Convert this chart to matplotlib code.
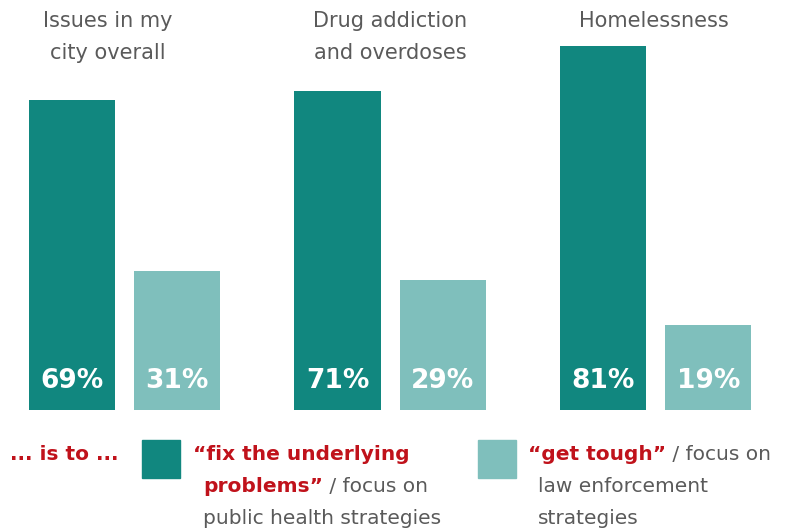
import matplotlib.pyplot as plt
import numpy as np
from matplotlib.patches import Rectangle

categories = ['Issues in my\ncity overall', 'Drug addiction\nand overdoses', 'Homelessness']
fix_problems = [69, 71, 81]
get_tough = [31, 29, 19]

dark = '#11877f'
light = '#7fbfbc'
red = '#c0121b'
gray = '#5a5a5a'

W, H = 786, 531
fig = plt.figure(figsize=(W / 100, H / 100), dpi=100)
ax = fig.add_axes([0, 0, 1, 1])

x = np.arange(len(categories))
off = 0.198
bw = 0.324
ax.bar(x - off, fix_problems, bw, color=dark)
ax.bar(x + off, get_tough, bw, color=light)

title_shift = [-0.062, 0, -0.006]
for i in range(len(categories)):
    ax.text(x[i] - off, 6.5, f'{fix_problems[i]}%', ha='center', va='center',
            color='white', fontsize=19, fontweight='bold')
    ax.text(x[i] + off, 6.5, f'{get_tough[i]}%', ha='center', va='center',
            color='white', fontsize=19, fontweight='bold')
    ax.text(x[i] + title_shift[i], 88.8, categories[i], ha='center', va='top',
            color=gray, fontsize=15, linespacing=1.75)

ax.set_xlim(-0.469, 2.491)
ax.set_ylim(-26.9, 91.3)
ax.axis('off')

# legend, drawn by hand in figure pixels
def px(xp, yp):
    return xp / W, 1 - yp / H

renderer = fig.canvas.get_renderer()
fs = 14.5

def rich_line(xp, yp, parts):
    # parts: list of (text, color, weight), placed one after another
    cur = xp
    for s, c, w in parts:
        t = fig.text(*px(cur, yp), s, color=c, fontweight=w, fontsize=fs,
                     ha='left', va='center')
        bb = t.get_window_extent(renderer)
        cur += bb.width

rich_line(10, 455, [('... is to ...', red, 'bold')])

fig.patches.append(Rectangle(px(142, 478), 38 / W, 38 / H, color=dark,
                             transform=fig.transFigure))
rich_line(193, 455, [('\u201cfix the underlying', red, 'bold')])
rich_line(203, 487, [('problems\u201d', red, 'bold'), (' / focus on', gray, 'normal')])
rich_line(203, 518, [('public health strategies', gray, 'normal')])

fig.patches.append(Rectangle(px(478, 478), 38 / W, 38 / H, color=light,
                             transform=fig.transFigure))
rich_line(528, 455, [('\u201cget tough\u201d', red, 'bold'), (' / focus on', gray, 'normal')])
rich_line(538, 487, [('law enforcement', gray, 'normal')])
rich_line(538, 518, [('strategies', gray, 'normal')])

fig.savefig('out.png', dpi=100)
